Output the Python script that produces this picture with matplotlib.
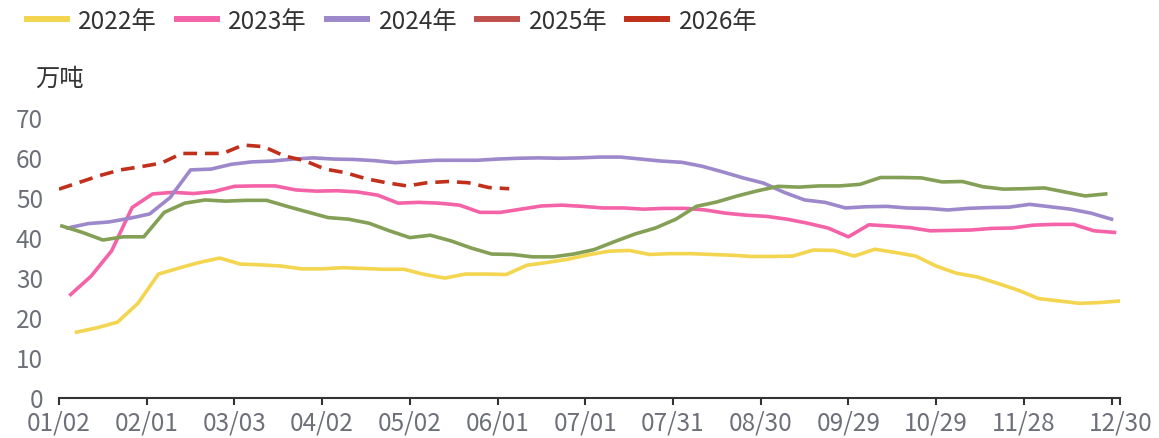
import numpy as np
import matplotlib
matplotlib.use("Agg")
import matplotlib.pyplot as plt
from matplotlib.lines import Line2D

plt.rcParams['font.family'] = ['Noto Sans CJK SC', 'DejaVu Sans']

# weekly series, x = days after 01/02
start_2022 = 6
vals_2022 = [16.3, 17.4, 18.8, 23.5, 30.8, 32.3, 33.7, 34.8, 33.3, 33.1, 32.8, 32.1, 32.1,
             32.4, 32.2, 32.0, 32.0, 30.7, 29.8, 30.8, 30.8, 30.7, 33.0, 33.7, 34.5, 35.6,
             36.5, 36.7, 35.7, 35.9, 35.9, 35.7, 35.5, 35.2, 35.2, 35.3, 36.8, 36.7, 35.3,
             37.0, 36.2, 35.3, 32.8, 31.0, 30.1, 28.5, 26.8, 24.7, 24.1, 23.5, 23.7, 24.1]

start_2023 = 4
vals_2023 = [25.7, 30.3, 36.6, 47.4, 50.8, 51.2, 50.9, 51.4, 52.7, 52.8, 52.8, 51.8, 51.5,
             51.6, 51.3, 50.5, 48.5, 48.7, 48.5, 48.0, 46.2, 46.2, 47.0, 47.8, 48.0, 47.7,
             47.3, 47.3, 47.0, 47.2, 47.2, 46.8, 46.0, 45.5, 45.2, 44.5, 43.5, 42.3, 40.1,
             43.1, 42.8, 42.4, 41.6, 41.7, 41.8, 42.2, 42.3, 43.0, 43.2, 43.2, 41.6, 41.2]

start_2024 = 3
vals_2024 = [42.3, 43.4, 43.8, 44.7, 45.8, 49.9, 56.8, 57.0, 58.2, 58.8, 59.0, 59.5, 59.8,
             59.5, 59.4, 59.1, 58.6, 58.9, 59.2, 59.2, 59.2, 59.5, 59.7, 59.8, 59.7, 59.8,
             60.0, 60.0, 59.5, 59.0, 58.7, 57.7, 56.3, 54.8, 53.5, 51.2, 49.3, 48.7, 47.3,
             47.6, 47.7, 47.3, 47.2, 46.8, 47.2, 47.4, 47.5, 48.2, 47.6, 47.0, 46.0, 44.5]

start_2025 = 1
vals_2025 = [42.8, 41.2, 39.3, 40.1, 40.1, 46.2, 48.5, 49.3, 49.0, 49.2, 49.2, 47.7, 46.3,
             44.9, 44.5, 43.5, 41.6, 39.9, 40.5, 39.1, 37.3, 35.8, 35.7, 35.1, 35.1, 35.8,
             36.9, 38.9, 40.8, 42.3, 44.5, 47.7, 48.8, 50.3, 51.6, 52.7, 52.5, 52.8, 52.8,
             53.2, 54.9, 54.9, 54.8, 53.8, 53.9, 52.6, 52.0, 52.1, 52.3, 51.3, 50.3, 50.8]

start_2026 = 0
vals_2026 = [52.0, 53.7, 55.4, 56.8, 57.6, 58.5, 60.9, 60.9, 60.9, 63.0, 62.6, 60.3, 59.1,
             57.0, 56.1, 54.6, 53.6, 52.8, 53.6, 53.9, 53.6, 52.4, 52.1]

tick_days = [0, 30, 60, 90, 120, 150, 180, 210, 240, 270, 300, 330, 360, 363]
tick_labels = ["01/02", "02/01", "03/03", "04/02", "05/02", "06/01", "07/01",
               "07/31", "08/30", "09/29", "10/29", "11/28", "", "12/30"]

years = ["2022年", "2023年", "2024年", "2025年", "2026年"]
legend_colors = ["#f3d550", "#f462a8", "#9d88cb", "#c0504d", "#c1301a"]
green = "#84a056"

fig = plt.figure(figsize=(11.59, 4.39), dpi=100)
ax = fig.add_axes([59 / 1159, (439 - 398.5) / 439, (1120.3 - 59) / 1159, (398.5 - 118) / 439])


def weeks(start, vals):
    return start + 7 * np.arange(len(vals))


lw = 2.6
ax.plot(weeks(start_2022, vals_2022), vals_2022, color=legend_colors[0], lw=lw)
ax.plot(weeks(start_2023, vals_2023), vals_2023, color=legend_colors[1], lw=lw)
ax.plot(weeks(start_2024, vals_2024), vals_2024, color=legend_colors[2], lw=lw)
ax.plot(weeks(start_2025, vals_2025), vals_2025, color=green, lw=lw)
ax.plot(weeks(start_2026, vals_2026), vals_2026, color=legend_colors[4], lw=lw,
        dashes=(3.8, 2.2))

ax.set_xlim(0, 363)
ax.set_ylim(0, 70)
ax.set_yticks(range(0, 71, 10))
ax.set_xticks(tick_days)
ax.set_xticklabels(tick_labels)

for side in ("top", "right", "left"):
    ax.spines[side].set_visible(False)
ax.spines["bottom"].set_color("#333333")
ax.spines["bottom"].set_linewidth(1.5)

ax.tick_params(axis="y", length=0, pad=11.5, labelsize=17.5, labelcolor="#6e7079")
ax.tick_params(axis="x", length=5, width=1.5, color="#333333", pad=3.5,
               labelsize=17.5, labelcolor="#6e7079")
for lab in ax.get_yticklabels():
    lab.set_verticalalignment("center_baseline")

handles = [Line2D([], [], color=c, lw=4.3) for c in legend_colors]
fig.legend(handles, years, loc="center left", bbox_to_anchor=(26.7 / 1159, 1 - 21.7 / 439),
           ncol=5, frameon=False, fontsize=17.5, handlelength=1.65, handletextpad=0.47,
           columnspacing=0.82, borderpad=0, borderaxespad=0, labelcolor="#333333")

fig.text(35 / 1159, 1 - 78.5 / 439, "万吨", fontsize=17.5, color="#333333", va="center")

fig.savefig("out.png", dpi=100)
